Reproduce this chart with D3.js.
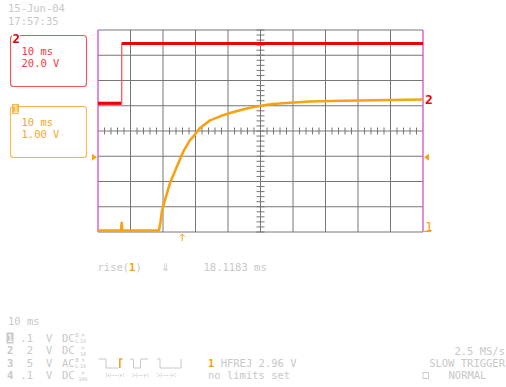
<!DOCTYPE html>
<html><head><meta charset="utf-8">
<script src="https://cdn.jsdelivr.net/npm/d3@7"></script>
<style>
body{margin:0;background:#fff;}
svg{display:block;}
text{font-family:"DejaVu Sans Mono",monospace;font-size:10.5px;}
</style></head><body>
<svg id="c" width="506" height="387"></svg>
<script>
// ---------- data ----------
const ch1Time  = [-50, -42.92, -42.71, -42.52, -31.23, -30.77, -30.31, -29.38, -27.85, -25.78, -23.75, -21.69, -20.68, -18.62, -15.54, -12.46, -9.38, -6.31, -3.23, 0.06, 3.85, 9.08, 15.23, 21.38, 30.62, 39.85, 50];
const ch1Volts = [0.06, 0.06, 0.36, 0.06, 0.06, 0.40, 0.83, 1.27, 1.94, 2.57, 3.19, 3.64, 3.78, 4.12, 4.42, 4.58, 4.71, 4.82, 4.92, 5.00, 5.07, 5.12, 5.17, 5.19, 5.21, 5.23, 5.25];
const ch2Time  = [-50, -42.7, -42.7, 50];
const ch2Volts = [0.55, 0.55, 47.9, 47.9];

const timeGridTicks = d3.range(-50, 51, 10);   // 10 ms/div
const divGridTicks  = d3.range(-4, 5, 1);       // 8 vertical divisions
const timeMinorTicks = d3.range(-50, 50.01, 2);
const divMinorTicks  = d3.range(-4, 4.01, 0.2);

const ch1VoltsPerDiv = 1.00, ch1OffsetDiv = -4;
const ch2VoltsPerDiv = 20.0, ch2OffsetDiv = 1.07;
const triggerLevel = 2.96;
const triggerTime = -24.1;

const dateText = "15-Jun-04", clockText = "17:57:35";
const ch2Box = ["10 ms", "20.0 V"];
const ch1Box = ["10 ms", "1.00 V"];
const riseLabel = "rise(", riseChan = "1", riseValue = "18.1183 ms";
const timebaseText = "10 ms";
const chanNums = ["1", "2", "3", "4"];
const chanScale = [".1", "2", "5", ".1"];
const chanCoupling = ["DC", "DC", "AC", "DC"];
const chanBwLimit = [true, false, true, false];
const chanProbe = ["10", "10", "10", "100"];
const trigInfo = ["HFREJ 2.96 V", "no limits set"];
const acqInfo = ["2.5 MS/s", "SLOW TRIGGER", "NORMAL"];

// ---------- drawing ----------
const svg = d3.select("#c");
const GRID = "#767676", LIGHT = "#c8c8c8", RED = "#f20000", ORANGE = "#f7a212", MAGENTA = "#d94cc8";

const x = d3.scaleLinear().domain([-50, 50]).range([98, 423]);
const yDiv = d3.scaleLinear().domain([-4, 4]).range([232, 30]);
const y1 = v => yDiv(v / ch1VoltsPerDiv + ch1OffsetDiv);
const y2 = v => yDiv(v / ch2VoltsPerDiv + ch2OffsetDiv);

const g = svg.append("g");
// horizontal grid
g.selectAll(".hg").data(divGridTicks).join("line")
  .attr("x1", x(-50)).attr("x2", x(50))
  .attr("y1", d => yDiv(d)).attr("y2", d => yDiv(d))
  .attr("stroke", GRID).attr("stroke-width", 1);
// vertical grid
g.selectAll(".vg").data(timeGridTicks).join("line")
  .attr("x1", d => x(d)).attr("x2", d => x(d))
  .attr("y1", yDiv(4)).attr("y2", yDiv(-4))
  .attr("stroke", d => (d === -50 || d === 50) ? MAGENTA : GRID)
  .attr("stroke-width", d => (d === -50 || d === 50) ? 1.3 : 1);
// minor ticks on centre axes
g.selectAll(".mx").data(timeMinorTicks.filter(d => Math.abs(d % 10) > 0.01)).join("line")
  .attr("x1", d => x(d)).attr("x2", d => x(d))
  .attr("y1", yDiv(0) - 3.5).attr("y2", yDiv(0) + 3.5)
  .attr("stroke", GRID).attr("stroke-width", 1);
g.selectAll(".my").data(divMinorTicks).join("line")
  .attr("y1", d => yDiv(d)).attr("y2", d => yDiv(d))
  .attr("x1", x(0) - 4).attr("x2", x(0) + 4)
  .attr("stroke", GRID).attr("stroke-width", 1);

// channel 2 trace (red)
const seg2 = d3.range(ch2Time.length - 1).map(i => ({t0: ch2Time[i], t1: ch2Time[i+1], v0: ch2Volts[i], v1: ch2Volts[i+1]}));
g.selectAll(".r").data(seg2).join("line")
  .attr("x1", d => x(d.t0)).attr("x2", d => x(d.t1))
  .attr("y1", d => y2(d.v0)).attr("y2", d => y2(d.v1))
  .attr("stroke", d => d.v0 === d.v1 ? RED : "#ff4a4a")
  .attr("stroke-width", d => d.v0 === d.v1 ? 3.2 : 1.2);

// channel 1 trace (orange)
const line1 = d3.line().x(d => x(d[0])).y(d => y1(d[1]));
g.append("path").datum(ch1Time.map((t, i) => [t, ch1Volts[i]]))
  .attr("d", line1).attr("fill", "none").attr("stroke", ORANGE)
  .attr("stroke-width", 2.6).attr("stroke-linejoin", "round");

// trigger level markers
const ty = y1(triggerLevel);
g.append("path").attr("d", `M${x(-50)-6},${ty-3.5} L${x(-50)-1},${ty} L${x(-50)-6},${ty+3.5}Z`).attr("fill", ORANGE);
g.append("path").attr("d", `M${x(50)+6},${ty-3.5} L${x(50)+1},${ty} L${x(50)+6},${ty+3.5}Z`).attr("fill", ORANGE);
// trigger time arrow
const tx = x(triggerTime);
g.append("path").attr("d", `M${tx},${yDiv(-4)+2} V${yDiv(-4)+9} M${tx-2.5},${yDiv(-4)+4.5} L${tx},${yDiv(-4)+2} L${tx+2.5},${yDiv(-4)+4.5}`)
  .attr("stroke", ORANGE).attr("fill", "none").attr("stroke-width", 1);
// ground markers on right
g.append("text").attr("x", x(50) + 2).attr("y", y2(0) + 0.5).text("2")
  .attr("fill", RED).style("font-weight", "bold").style("font-size", "13px");
g.append("text").attr("x", x(50) + 2).attr("y", y1(0) - 1).text("1")
  .attr("fill", ORANGE).style("font-size", "13px");
g.append("line").attr("x1", x(50) + 1).attr("x2", x(50) + 8).attr("y1", y1(0) - 0.5).attr("y2", y1(0) - 0.5)
  .attr("stroke", ORANGE).attr("stroke-width", 1.2);

// date / time
svg.append("text").attr("x", 8).attr("y", 12).text(dateText).attr("fill", LIGHT);
svg.append("text").attr("x", 8).attr("y", 25).text(clockText).attr("fill", LIGHT);

// channel boxes
function chanBox(y0, col, txtCol, lines, num, filled) {
  svg.append("rect").attr("x", 10.5).attr("y", y0).attr("width", 76).attr("height", 51)
    .attr("rx", 3).attr("fill", "none").attr("stroke", col).attr("stroke-width", 1.1);
  if (filled) {
    svg.append("rect").attr("x", 12).attr("y", y0 - 2.5).attr("width", 7).attr("height", 10).attr("fill", col);
    svg.append("text").attr("x", 12.5).attr("y", y0 + 6.5).text(num).attr("fill", "#ffe8c0")
      .style("font-weight", "bold").style("font-size", "11px");
  } else {
    svg.append("rect").attr("x", 12).attr("y", y0 - 2).attr("width", 8).attr("height", 8).attr("fill", "#fff");
    svg.append("text").attr("x", 12.5).attr("y", y0 + 7).text(num).attr("fill", "#e00000")
      .style("font-weight", "bold").style("font-size", "12.5px");
  }
  lines.forEach((t, i) => svg.append("text").attr("x", 21.5).attr("y", y0 + 19.5 + i * 11.6).text(t).attr("fill", txtCol));
}
chanBox(35.5, "#f25555", "#f23a3a", ch2Box, "2", false);
chanBox(106.5, "#f8b84a", "#f7a628", ch1Box, "1", true);

// rise measurement line
const rt = svg.append("text").attr("x", 97.5).attr("y", 270.5);
rt.append("tspan").text(riseLabel).attr("fill", LIGHT);
rt.append("tspan").text(riseChan).attr("fill", ORANGE).style("font-weight", "bold");
rt.append("tspan").text(")").attr("fill", LIGHT);
svg.append("text").attr("x", 161).attr("y", 271).text("⇓").attr("fill", LIGHT).style("font-family", "DejaVu Sans");
svg.append("text").attr("x", 203.5).attr("y", 270.5).text(riseValue).attr("fill", LIGHT);

// timebase + channel setup rows
svg.append("text").attr("x", 8).attr("y", 324.5).text(timebaseText).attr("fill", LIGHT);
const rowY = [338, 350.5, 363, 375.5];
chanNums.forEach((n, i) => {
  const yb = rowY[i] + 3.8;
  if (i === 0) {
    svg.append("rect").attr("x", 6.5).attr("y", rowY[i] - 5.5).attr("width", 7).attr("height", 11).attr("fill", LIGHT);
    svg.append("text").attr("x", 7).attr("y", yb).text(n).attr("fill", "#f4f4f4").style("font-weight", "bold");
  } else {
    svg.append("text").attr("x", 7).attr("y", yb).text(n).attr("fill", LIGHT).style("font-weight", "bold");
  }
  svg.append("text").attr("x", 33).attr("y", yb).attr("text-anchor", "end").text(chanScale[i]).attr("fill", LIGHT);
  svg.append("text").attr("x", 46).attr("y", yb).text("V").attr("fill", LIGHT);
  svg.append("text").attr("x", 62).attr("y", yb).text(chanCoupling[i]).attr("fill", LIGHT);
  if (chanBwLimit[i]) {
    svg.append("text").attr("x", 75.3).attr("y", rowY[i] - 0.8).text("B").attr("fill", LIGHT).style("font-size", "5.5px");
    svg.append("text").attr("x", 75.3).attr("y", rowY[i] + 5).text("L").attr("fill", LIGHT).style("font-size", "5.5px");
  }
  svg.append("text").attr("x", 83).attr("y", rowY[i] - 0.8).attr("text-anchor", "middle").text("×").attr("fill", LIGHT).style("font-size", "6px");
  svg.append("text").attr("x", 83).attr("y", rowY[i] + 5.4).attr("text-anchor", "middle").text(chanProbe[i]).attr("fill", LIGHT).style("font-size", "5px");
});

// trigger icons
const iy0 = rowY[2] - 4, iy1 = rowY[2] + 5;
const icons = [
  {p: `M98.5,${iy0} H106 V${iy1} H118.5`, hi: `M119.8,${iy1} V${iy0} H122.5`},
  {p: `M130,${iy0} H133.5 V${iy1} H140.5 V${iy0} H148`, hi: null},
  {p: `M157,${iy0} H160 V${iy1} H181 V${iy0}`, hi: null}
];
icons.forEach(ic => {
  svg.append("path").attr("d", ic.p).attr("fill", "none").attr("stroke", LIGHT).attr("stroke-width", 1);
  if (ic.hi) svg.append("path").attr("d", ic.hi).attr("fill", "none").attr("stroke", ORANGE).attr("stroke-width", 1.6);
});
const arrowSpans = [[106.5, 123.5], [133, 148], [158, 175]];
arrowSpans.forEach(([a, b]) => {
  const yy = rowY[3];
  svg.append("path").attr("d",
    `M${a},${yy-2.5} V${yy+2.5} M${b},${yy-2.5} V${yy+2.5} M${a+1},${yy} H${b-1} M${a+4},${yy-2} L${a+1.5},${yy} L${a+4},${yy+2} M${b-4},${yy-2} L${b-1.5},${yy} L${b-4},${yy+2}`)
    .attr("fill", "none").attr("stroke", LIGHT).attr("stroke-width", 0.8).attr("stroke-dasharray", "1.5,1");
});

// trigger info
const ti = svg.append("text").attr("x", 208).attr("y", rowY[2] + 3.8);
ti.append("tspan").text("1").attr("fill", ORANGE).style("font-weight", "bold");
ti.append("tspan").text(" " + trigInfo[0]).attr("fill", LIGHT);
svg.append("text").attr("x", 208).attr("y", rowY[3] + 3.8).text(trigInfo[1]).attr("fill", LIGHT);

// acquisition info
svg.append("text").attr("x", 505).attr("y", 351.5 + 3.8).attr("text-anchor", "end").text(acqInfo[0]).attr("fill", LIGHT);
svg.append("text").attr("x", 505).attr("y", rowY[2] + 3.8).attr("text-anchor", "end").text(acqInfo[1]).attr("fill", LIGHT);
svg.append("rect").attr("x", 423).attr("y", rowY[3] - 3).attr("width", 5.5).attr("height", 6).attr("fill", "none").attr("stroke", LIGHT).attr("stroke-width", 0.9);
svg.append("text").attr("x", 448.5).attr("y", rowY[3] + 3.8).text(acqInfo[2]).attr("fill", LIGHT);
</script>
</body></html>
